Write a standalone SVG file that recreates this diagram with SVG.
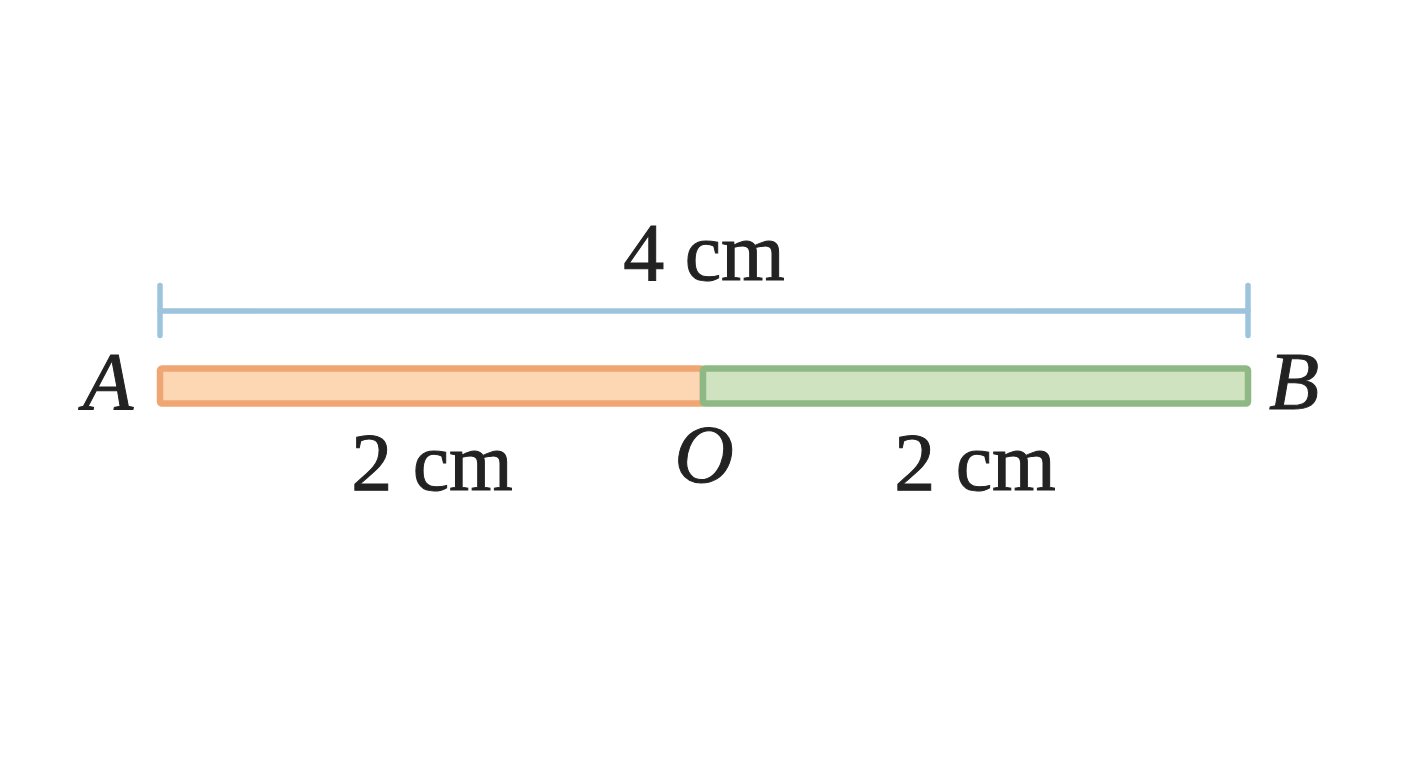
<svg xmlns="http://www.w3.org/2000/svg" width="1408" height="768" viewBox="0 0 1408 768">
<style>
.lbl{font-family:"Liberation Serif","DejaVu Serif",serif;fill:#222;stroke:#222;stroke-width:1;text-anchor:middle}
.it{font-style:italic}
.dim{stroke:#9DC4DC;stroke-width:5.5;stroke-linecap:round;fill:none}
</style>
<rect width="1408" height="768" fill="#fff"/>
<g id="connectors">
<line class="dim" x1="160" y1="311" x2="1248" y2="311"/>
<line class="dim" x1="160" y1="285.5" x2="160" y2="335.5"/>
<line class="dim" x1="1248" y1="285.5" x2="1248" y2="335.5"/>
</g>
<g id="segAO">
<rect x="160" y="368.5" width="543" height="35" rx="2" fill="#FDD6B4" stroke="#F0A673" stroke-width="6.5"/>
</g>
<g id="segOB">
<rect x="703" y="368.5" width="545" height="35" rx="2" fill="#D0E3C1" stroke="#8FB984" stroke-width="6.5"/>
</g>
<g id="labels">
<text class="lbl" x="704" y="280" font-size="82">4 cm</text>
<text class="lbl" x="432" y="490" font-size="82">2 cm</text>
<text class="lbl" x="975" y="490" font-size="82">2 cm</text>
<text class="lbl it" x="108" y="409" font-size="82">A</text>
<text class="lbl it" x="1294" y="409" font-size="82">B</text>
<text class="lbl it" x="704" y="482" font-size="82">O</text>
</g>
</svg>
